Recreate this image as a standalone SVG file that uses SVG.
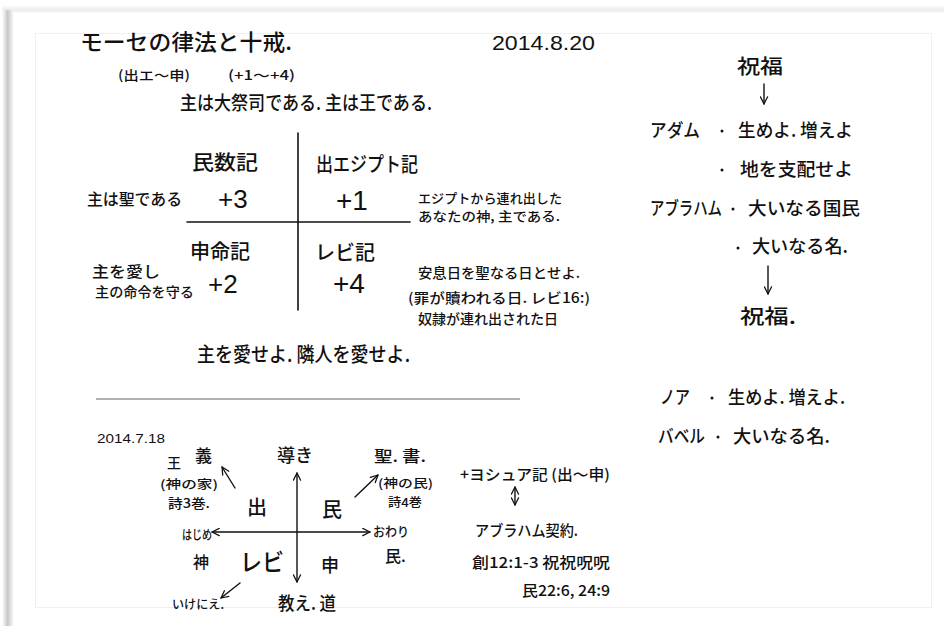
<svg xmlns="http://www.w3.org/2000/svg" width="944" height="626" viewBox="0 0 944 626">
<defs>
<linearGradient id="shadowL" x1="0" y1="0" x2="1" y2="0">
<stop offset="0" stop-color="#ffffff"/>
<stop offset="0.5" stop-color="#c8c8c8"/>
<stop offset="1" stop-color="#f4f4f4"/>
</linearGradient>
<linearGradient id="shadowT" x1="0" y1="0" x2="0" y2="1">
<stop offset="0" stop-color="#ffffff"/>
<stop offset="0.6" stop-color="#ececec"/>
<stop offset="1" stop-color="#fafafa"/>
</linearGradient>
<marker id="ah" viewBox="0 0 10 10" refX="9" refY="5" markerWidth="9" markerHeight="9" markerUnits="userSpaceOnUse" orient="auto-start-reverse">
<path d="M1,1 L9,5 L1,9" fill="none" stroke="#111" stroke-width="1.4" stroke-linecap="round" stroke-linejoin="round"/>
</marker>
</defs>
<style>
text{font-family:"Noto Sans CJK JP","Noto Sans",sans-serif;fill:#111;font-weight:500;}
.num{font-family:"Liberation Sans","Noto Sans",sans-serif;font-weight:400;}
.ln{stroke:#111;stroke-width:1.6;fill:none;stroke-linecap:round;}
.ar{stroke:#111;stroke-width:1.4;fill:none;stroke-linecap:round;}
.dot{fill:#111;}
</style>
<rect x="0" y="0" width="944" height="626" fill="#ffffff"/>
<rect x="2" y="5" width="942" height="8" fill="url(#shadowT)"/>
<rect x="2" y="10" width="11" height="616" fill="url(#shadowL)"/>
<rect x="35.5" y="33.5" width="896" height="574" fill="#ffffff" stroke="#f0f0f0" stroke-width="1"/>

<g id="header">
<text x="80" y="50" font-size="22" textLength="212" lengthAdjust="spacingAndGlyphs">モーセの律法と十戒.</text>
<text class="num" x="492" y="50" font-size="21" textLength="103" lengthAdjust="spacingAndGlyphs">2014.8.20</text>
<text x="118" y="80" font-size="13" textLength="72" lengthAdjust="spacingAndGlyphs">(出エ〜申)</text>
<text x="228" y="80" font-size="13" textLength="67" lengthAdjust="spacingAndGlyphs">(+1〜+4)</text>
<text x="180" y="110" font-size="19" textLength="252" lengthAdjust="spacingAndGlyphs">主は大祭司である. 主は王である.</text>
</g>

<g id="cross-top">
<line class="ln" x1="298" y1="133" x2="298" y2="310"/>
<line class="ln" x1="187" y1="222" x2="410" y2="222"/>
</g>

<g id="q-numbers">
<text x="192" y="170" font-size="20" textLength="66" lengthAdjust="spacingAndGlyphs">民数記</text>
<text class="num" x="218" y="208" font-size="26">+3</text>
<text x="87" y="205" font-size="16" textLength="95" lengthAdjust="spacingAndGlyphs">主は聖である</text>
</g>
<g id="q-exodus">
<text x="316" y="172" font-size="20" textLength="102" lengthAdjust="spacingAndGlyphs">出エジプト記</text>
<text class="num" x="336" y="210" font-size="28">+1</text>
<text x="418" y="203" font-size="13" textLength="144" lengthAdjust="spacingAndGlyphs">エジプトから連れ出した</text>
<text x="418" y="221" font-size="13" textLength="142" lengthAdjust="spacingAndGlyphs">あなたの神, 主である.</text>
</g>
<g id="q-deut">
<text x="190" y="259" font-size="20" textLength="60" lengthAdjust="spacingAndGlyphs">申命記</text>
<text class="num" x="208" y="293" font-size="26">+2</text>
<text x="92" y="277" font-size="15" textLength="68" lengthAdjust="spacingAndGlyphs">主を愛し</text>
<text x="95" y="297" font-size="14" textLength="99" lengthAdjust="spacingAndGlyphs">主の命令を守る</text>
</g>
<g id="q-lev">
<text x="315" y="260" font-size="20" textLength="60" lengthAdjust="spacingAndGlyphs">レビ記</text>
<text class="num" x="333" y="293" font-size="28">+4</text>
<text x="418" y="278" font-size="14" textLength="162" lengthAdjust="spacingAndGlyphs">安息日を聖なる日とせよ.</text>
<text x="408" y="303" font-size="14" textLength="182" lengthAdjust="spacingAndGlyphs">(罪が贖われる日. レビ16:)</text>
<text x="418" y="324" font-size="14" textLength="140" lengthAdjust="spacingAndGlyphs">奴隷が連れ出された日</text>
</g>
<g id="love">
<text x="197" y="362" font-size="20" textLength="213" lengthAdjust="spacingAndGlyphs">主を愛せよ. 隣人を愛せよ.</text>
</g>

<g id="blessing">
<text x="737" y="74" font-size="20" textLength="46" lengthAdjust="spacingAndGlyphs">祝福</text>
<text x="650" y="137" font-size="18" textLength="50" lengthAdjust="spacingAndGlyphs">アダム</text>
<circle class="dot" cx="722" cy="131" r="1.5"/>
<text x="738" y="137" font-size="18" textLength="115" lengthAdjust="spacingAndGlyphs">生めよ. 増えよ</text>
<circle class="dot" cx="722" cy="170" r="1.5"/>
<text x="740" y="176" font-size="18" textLength="113" lengthAdjust="spacingAndGlyphs">地を支配せよ</text>
<text x="650" y="215" font-size="18" textLength="72" lengthAdjust="spacingAndGlyphs">アブラハム</text>
<circle class="dot" cx="733" cy="209" r="1.5"/>
<text x="748" y="215" font-size="18" textLength="112" lengthAdjust="spacingAndGlyphs">大いなる国民</text>
<circle class="dot" cx="738" cy="248" r="1.5"/>
<text x="752" y="253" font-size="18" textLength="96" lengthAdjust="spacingAndGlyphs">大いなる名.</text>
<text x="740" y="324" font-size="20" textLength="56" lengthAdjust="spacingAndGlyphs">祝福.</text>
</g>
<g id="noah">
<text x="660" y="404" font-size="18" textLength="30" lengthAdjust="spacingAndGlyphs">ノア</text>
<circle class="dot" cx="712" cy="398" r="1.5"/>
<text x="728" y="404" font-size="18" textLength="117" lengthAdjust="spacingAndGlyphs">生めよ. 増えよ.</text>
<text x="658" y="443" font-size="18" textLength="47" lengthAdjust="spacingAndGlyphs">バベル</text>
<circle class="dot" cx="718" cy="437" r="1.5"/>
<text x="733" y="443" font-size="18" textLength="97" lengthAdjust="spacingAndGlyphs">大いなる名.</text>
</g>

<g id="divider">
<line x1="96" y1="399" x2="520" y2="399" stroke="#9a9a9a" stroke-width="1.5"/>
</g>

<g id="bottom-labels">
<text class="num" x="97" y="443" font-size="12" textLength="68" lengthAdjust="spacingAndGlyphs">2014.7.18</text>
<text x="167" y="468" font-size="14">王</text>
<text x="195" y="462" font-size="17">義</text>
<text x="160" y="489" font-size="12" textLength="58" lengthAdjust="spacingAndGlyphs">(神の家)</text>
<text x="168" y="508" font-size="13" textLength="42" lengthAdjust="spacingAndGlyphs">詩3巻.</text>
<text x="277" y="462" font-size="18" textLength="36" lengthAdjust="spacingAndGlyphs">導き</text>
<text x="374" y="462" font-size="16" textLength="52" lengthAdjust="spacingAndGlyphs">聖. 書.</text>
<text x="378" y="488" font-size="12" textLength="55" lengthAdjust="spacingAndGlyphs">(神の民)</text>
<text x="388" y="507" font-size="12" textLength="34" lengthAdjust="spacingAndGlyphs">詩4巻</text>
<text x="247" y="515" font-size="20">出</text>
<text x="322" y="517" font-size="20">民</text>
<text x="182" y="539" font-size="13" textLength="30" lengthAdjust="spacingAndGlyphs">はじめ</text>
<text x="373" y="536" font-size="13" textLength="36" lengthAdjust="spacingAndGlyphs">おわり</text>
<text x="193" y="568" font-size="16">神</text>
<text x="240" y="571" font-size="24" textLength="44" lengthAdjust="spacingAndGlyphs">レビ</text>
<text x="321" y="572" font-size="18">申</text>
<text x="385" y="562" font-size="16">民.</text>
<text x="172" y="609" font-size="12" textLength="52" lengthAdjust="spacingAndGlyphs">いけにえ.</text>
<text x="278" y="610" font-size="18" textLength="58" lengthAdjust="spacingAndGlyphs">教え. 道</text>
</g>
<g id="joshua">
<text x="460" y="480" font-size="15" textLength="150" lengthAdjust="spacingAndGlyphs">+ヨシュア記 (出〜申)</text>
<text x="475" y="536" font-size="15" textLength="103" lengthAdjust="spacingAndGlyphs">アブラハム契約.</text>
<text x="472" y="568" font-size="15" textLength="138" lengthAdjust="spacingAndGlyphs">創12:1-3 祝祝呪呪</text>
<text x="522" y="596" font-size="15" textLength="88" lengthAdjust="spacingAndGlyphs">民22:6, 24:9</text>
</g>

<g id="connectors">
<line class="ar" x1="764" y1="84" x2="764" y2="104" marker-end="url(#ah)"/>
<line class="ar" x1="768" y1="266" x2="768" y2="294" marker-end="url(#ah)"/>
<line class="ar" x1="297" y1="473" x2="297" y2="582" marker-start="url(#ah)" marker-end="url(#ah)"/>
<line class="ar" x1="212" y1="532" x2="370" y2="532" marker-start="url(#ah)" marker-end="url(#ah)"/>
<line class="ar" x1="235" y1="488" x2="222" y2="467" marker-end="url(#ah)"/>
<line class="ar" x1="355" y1="497" x2="378" y2="475" marker-end="url(#ah)"/>
<line class="ar" x1="240" y1="583" x2="221" y2="598" marker-end="url(#ah)"/>
<line class="ar" x1="515" y1="487" x2="515" y2="505" marker-start="url(#ah)" marker-end="url(#ah)"/>
</g>
</svg>
